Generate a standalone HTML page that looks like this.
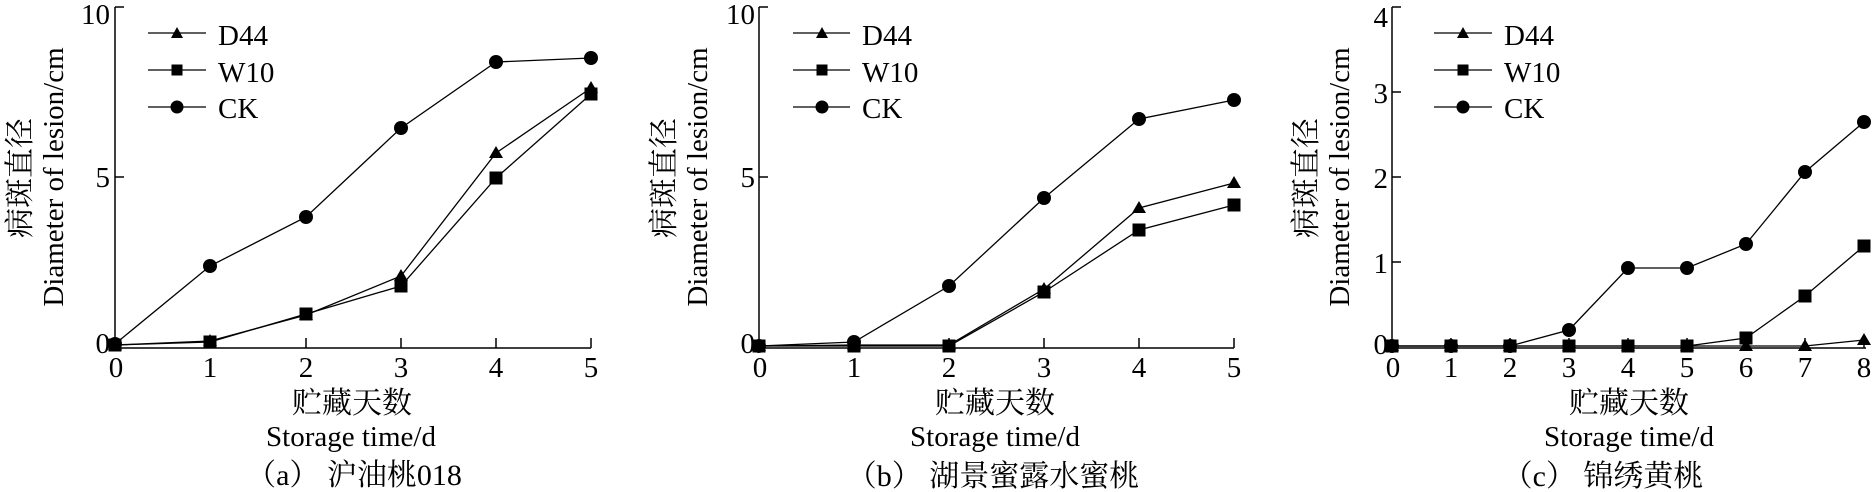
<!DOCTYPE html>
<html>
<head>
<meta charset="utf-8">
<style>
  html,body{margin:0;padding:0;background:#fff;}
  svg{display:block;}
  text{fill:#000;}
  .lat{font-family:"Liberation Serif","Noto Serif CJK SC",serif;font-size:29px;}
  .cjk{font-family:"Liberation Serif","Noto Serif CJK SC",serif;font-size:30px;}
</style>
</head>
<body>
<svg width="1875" height="492" viewBox="0 0 1875 492" xmlns="http://www.w3.org/2000/svg">
<rect width="1875" height="492" fill="#fff"/>

<!-- ================= Panel (a) ================= -->
<g stroke="#000" stroke-width="1.5" fill="none">
  <polyline points="115,7 115,348 591,348"/>
  <line x1="115" y1="7" x2="124" y2="7"/>
  <line x1="115" y1="177" x2="124" y2="177"/>
  <line x1="210" y1="348" x2="210" y2="338"/>
  <line x1="306" y1="348" x2="306" y2="338"/>
  <line x1="401" y1="348" x2="401" y2="338"/>
  <line x1="496" y1="348" x2="496" y2="338"/>
  <line x1="591" y1="348" x2="591" y2="338"/>
</g>
<g class="lat" text-anchor="end">
  <text x="110" y="24">10</text>
  <text x="110" y="187">5</text>
  <text x="110" y="353">0</text>
</g>
<g class="lat" text-anchor="middle">
  <text x="116" y="377">0</text>
  <text x="210" y="377">1</text>
  <text x="306" y="377">2</text>
  <text x="401" y="377">3</text>
  <text x="496" y="377">4</text>
  <text x="591" y="377">5</text>
</g>
<text class="cjk" text-anchor="middle" x="352" y="413">贮藏天数</text>
<text class="lat" text-anchor="middle" x="351" y="446">Storage time/d</text>
<text class="cjk" text-anchor="middle" x="354" y="485">（a） 沪油桃018</text>
<text class="cjk" text-anchor="middle" transform="translate(30,178) rotate(-90)">病斑直径</text>
<text class="lat" text-anchor="middle" transform="translate(63,177) rotate(-90)">Diameter of lesion/cm</text>

<g stroke="#000" stroke-width="1.3" fill="none">
  <polyline points="115,344 210,266 306,217 401,128 496,62 591,58"/>
  <polyline points="115,345 210,341 306,315 401,276 496,153 591,88"/>
  <polyline points="115,345 210,342 306,314 401,286 496,178 591,94"/>
</g>
<g fill="#000">
  <circle cx="115" cy="344" r="7"/><circle cx="210" cy="266" r="7"/><circle cx="306" cy="217" r="7"/>
  <circle cx="401" cy="128" r="7"/><circle cx="496" cy="62" r="7"/><circle cx="591" cy="58" r="7"/>
  <polygon points="115,338 108,350 122,350"/><polygon points="210,334 203,346 217,346"/>
  <polygon points="306,308 299,320 313,320"/><polygon points="401,269 394,281 408,281"/>
  <polygon points="496,146 489,158 503,158"/><polygon points="591,81 584,93 598,93"/>
  <rect x="108.5" y="338.5" width="13" height="13"/><rect x="203.5" y="335.5" width="13" height="13"/>
  <rect x="299.5" y="307.5" width="13" height="13"/><rect x="394.5" y="279.5" width="13" height="13"/>
  <rect x="489.5" y="171.5" width="13" height="13"/><rect x="584.5" y="87.5" width="13" height="13"/>
</g>
<!-- legend a -->
<g stroke="#000" stroke-width="1.3">
  <line x1="148" y1="33" x2="206" y2="33"/>
  <line x1="148" y1="70" x2="206" y2="70"/>
  <line x1="148" y1="107" x2="206" y2="107"/>
</g>
<g fill="#000">
  <polygon points="177,27 171,38 183,38"/>
  <rect x="171.5" y="64.5" width="11" height="11"/>
  <circle cx="177" cy="107" r="6.5"/>
</g>
<g class="lat">
  <text x="218" y="45">D44</text>
  <text x="218" y="82">W10</text>
  <text x="218" y="118">CK</text>
</g>

<!-- ================= Panel (b) ================= -->
<g stroke="#000" stroke-width="1.5" fill="none">
  <polyline points="759,7 759,348 1234,348"/>
  <line x1="759" y1="7" x2="768" y2="7"/>
  <line x1="759" y1="177" x2="768" y2="177"/>
  <line x1="854" y1="348" x2="854" y2="338"/>
  <line x1="949" y1="348" x2="949" y2="338"/>
  <line x1="1044" y1="348" x2="1044" y2="338"/>
  <line x1="1139" y1="348" x2="1139" y2="338"/>
  <line x1="1234" y1="348" x2="1234" y2="338"/>
</g>
<g class="lat" text-anchor="end">
  <text x="755" y="24">10</text>
  <text x="755" y="187">5</text>
  <text x="755" y="353">0</text>
</g>
<g class="lat" text-anchor="middle">
  <text x="760" y="377">0</text>
  <text x="854" y="377">1</text>
  <text x="949" y="377">2</text>
  <text x="1044" y="377">3</text>
  <text x="1139" y="377">4</text>
  <text x="1234" y="377">5</text>
</g>
<text class="cjk" text-anchor="middle" x="995" y="413">贮藏天数</text>
<text class="lat" text-anchor="middle" x="995" y="446">Storage time/d</text>
<text class="cjk" text-anchor="middle" x="993" y="486">（b） 湖景蜜露水蜜桃</text>
<text class="cjk" text-anchor="middle" transform="translate(674,178) rotate(-90)">病斑直径</text>
<text class="lat" text-anchor="middle" transform="translate(707,177) rotate(-90)">Diameter of lesion/cm</text>

<g stroke="#000" stroke-width="1.3" fill="none">
  <polyline points="759,346 854,342 949,286 1044,198 1139,119 1234,100"/>
  <polyline points="759,346 854,345 949,345 1044,289 1139,208 1234,183"/>
  <polyline points="759,346 854,346 949,346 1044,292 1139,230 1234,205"/>
</g>
<g fill="#000">
  <circle cx="759" cy="346" r="7"/><circle cx="854" cy="342" r="7"/><circle cx="949" cy="286" r="7"/>
  <circle cx="1044" cy="198" r="7"/><circle cx="1139" cy="119" r="7"/><circle cx="1234" cy="100" r="7"/>
  <polygon points="759,339 752,351 766,351"/><polygon points="854,338 847,350 861,350"/>
  <polygon points="949,338 942,350 956,350"/><polygon points="1044,282 1037,294 1051,294"/>
  <polygon points="1139,201 1132,213 1146,213"/><polygon points="1234,176 1227,188 1241,188"/>
  <rect x="752.5" y="339.5" width="13" height="13"/><rect x="847.5" y="339.5" width="13" height="13"/>
  <rect x="942.5" y="339.5" width="13" height="13"/><rect x="1037.5" y="285.5" width="13" height="13"/>
  <rect x="1132.5" y="223.5" width="13" height="13"/><rect x="1227.5" y="198.5" width="13" height="13"/>
</g>
<!-- legend b -->
<g stroke="#000" stroke-width="1.3">
  <line x1="793" y1="33" x2="850" y2="33"/>
  <line x1="793" y1="70" x2="850" y2="70"/>
  <line x1="793" y1="107" x2="850" y2="107"/>
</g>
<g fill="#000">
  <polygon points="822,27 816,38 828,38"/>
  <rect x="816.5" y="64.5" width="11" height="11"/>
  <circle cx="822" cy="107" r="6.5"/>
</g>
<g class="lat">
  <text x="862" y="45">D44</text>
  <text x="862" y="82">W10</text>
  <text x="862" y="118">CK</text>
</g>

<!-- ================= Panel (c) ================= -->
<g stroke="#000" stroke-width="1.5" fill="none">
  <polyline points="1392,7 1392,348 1866,348"/>
  <line x1="1392" y1="7" x2="1401" y2="7"/>
  <line x1="1392" y1="92" x2="1401" y2="92"/>
  <line x1="1392" y1="177" x2="1401" y2="177"/>
  <line x1="1392" y1="262" x2="1401" y2="262"/>
  <line x1="1451" y1="348" x2="1451" y2="338"/>
  <line x1="1510" y1="348" x2="1510" y2="338"/>
  <line x1="1569" y1="348" x2="1569" y2="338"/>
  <line x1="1628" y1="348" x2="1628" y2="338"/>
  <line x1="1687" y1="348" x2="1687" y2="338"/>
  <line x1="1746" y1="348" x2="1746" y2="338"/>
  <line x1="1805" y1="348" x2="1805" y2="338"/>
  <line x1="1864" y1="348" x2="1864" y2="338"/>
</g>
<g class="lat" text-anchor="end">
  <text x="1388" y="27">4</text>
  <text x="1388" y="103">3</text>
  <text x="1388" y="188">2</text>
  <text x="1388" y="273">1</text>
  <text x="1388" y="354">0</text>
</g>
<g class="lat" text-anchor="middle">
  <text x="1393" y="377">0</text>
  <text x="1451" y="377">1</text>
  <text x="1510" y="377">2</text>
  <text x="1569" y="377">3</text>
  <text x="1628" y="377">4</text>
  <text x="1687" y="377">5</text>
  <text x="1746" y="377">6</text>
  <text x="1805" y="377">7</text>
  <text x="1864" y="377">8</text>
</g>
<text class="cjk" text-anchor="middle" x="1629" y="413">贮藏天数</text>
<text class="lat" text-anchor="middle" x="1629" y="446">Storage time/d</text>
<text class="cjk" text-anchor="middle" x="1603" y="486">（c） 锦绣黄桃</text>
<text class="cjk" text-anchor="middle" transform="translate(1316,178) rotate(-90)">病斑直径</text>
<text class="lat" text-anchor="middle" transform="translate(1349,177) rotate(-90)">Diameter of lesion/cm</text>

<g stroke="#000" stroke-width="1.3" fill="none">
  <polyline points="1392,346 1451,346 1510,346 1569,330 1628,268 1687,268 1746,244 1805,172 1864,122"/>
  <polyline points="1392,346 1451,346 1510,346 1569,346 1628,346 1687,346 1746,346 1805,346 1864,340"/>
  <polyline points="1392,346 1451,346 1510,346 1569,346 1628,346 1687,346 1746,338 1805,296 1864,246"/>
</g>
<g fill="#000">
  <circle cx="1392" cy="346" r="7"/><circle cx="1451" cy="346" r="7"/><circle cx="1510" cy="346" r="7"/>
  <circle cx="1569" cy="330" r="7"/><circle cx="1628" cy="268" r="7"/><circle cx="1687" cy="268" r="7"/>
  <circle cx="1746" cy="244" r="7"/><circle cx="1805" cy="172" r="7"/><circle cx="1864" cy="122" r="7"/>
  <polygon points="1392,339 1385,351 1399,351"/><polygon points="1451,339 1444,351 1458,351"/>
  <polygon points="1510,339 1503,351 1517,351"/><polygon points="1569,339 1562,351 1576,351"/>
  <polygon points="1628,339 1621,351 1635,351"/><polygon points="1687,339 1680,351 1694,351"/>
  <polygon points="1746,339 1739,351 1753,351"/><polygon points="1805,339 1798,351 1812,351"/>
  <polygon points="1864,333 1857,345 1871,345"/>
  <rect x="1385.5" y="339.5" width="13" height="13"/><rect x="1444.5" y="339.5" width="13" height="13"/>
  <rect x="1503.5" y="339.5" width="13" height="13"/><rect x="1562.5" y="339.5" width="13" height="13"/>
  <rect x="1621.5" y="339.5" width="13" height="13"/><rect x="1680.5" y="339.5" width="13" height="13"/>
  <rect x="1739.5" y="331.5" width="13" height="13"/><rect x="1798.5" y="289.5" width="13" height="13"/>
  <rect x="1857.5" y="239.5" width="13" height="13"/>
</g>
<!-- legend c -->
<g stroke="#000" stroke-width="1.3">
  <line x1="1434" y1="33" x2="1492" y2="33"/>
  <line x1="1434" y1="70" x2="1492" y2="70"/>
  <line x1="1434" y1="107" x2="1492" y2="107"/>
</g>
<g fill="#000">
  <polygon points="1463,27 1457,38 1469,38"/>
  <rect x="1457.5" y="64.5" width="11" height="11"/>
  <circle cx="1463" cy="107" r="6.5"/>
</g>
<g class="lat">
  <text x="1504" y="45">D44</text>
  <text x="1504" y="82">W10</text>
  <text x="1504" y="118">CK</text>
</g>
</svg>
</body>
</html>
